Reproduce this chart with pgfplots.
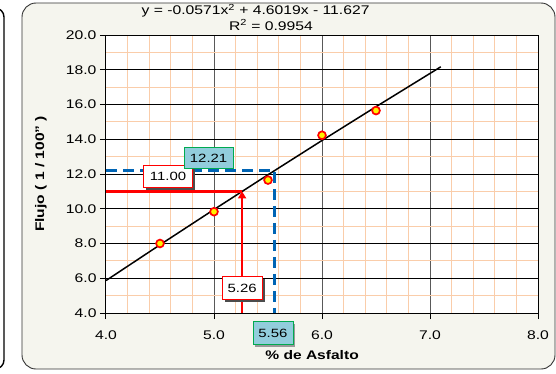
\documentclass[border=0pt]{standalone}
\usepackage{pgfplots}
\pgfplotsset{compat=1.18}
\usepackage{fontspec}
\setmainfont{Liberation Sans}[FakeStretch=1.25]
\usetikzlibrary{shadows,arrows.meta,backgrounds}
\definecolor{bgc}{RGB}{245,245,238}
\definecolor{gridor}{RGB}{250,205,170}
\definecolor{blueL}{RGB}{0,100,180}
\definecolor{tealF}{RGB}{146,205,220}
\definecolor{greenB}{RGB}{0,170,80}
\begin{document}
\begin{tikzpicture}[x=1bp,y=1bp]
\begin{axis}[
  scale only axis, width=432bp, height=278bp,
  xmin=4, xmax=8, ymin=4, ymax=20,
  xtick={4,5,6,7,8}, ytick={4,6,...,20},
  minor x tick num=4, minor y tick num=1,
  grid=both,
  minor grid style={gridor, line width=1bp},
  major x grid style={black!65, line width=1bp},
  major y grid style={black, line width=1bp},
  axis line style={black, line width=1bp},
  axis background/.style={fill=white},
  tick pos=left, tick align=outside,
  major tick length=6bp, minor tick length=0pt,
  tick style={black, line width=1bp},
  /pgf/number format/assume math mode=true,
  /pgf/number format/fixed,
  /pgf/number format/fixed zerofill,
  /pgf/number format/precision=1,
  ticklabel style={font=\fontsize{12.6}{14}\selectfont},
  xticklabel style={yshift=-8bp},
  xlabel={\% de Asfalto},
  ylabel={Flujo ( 1 / 100" )},
  every axis x label/.style={at={(axis description cs:0.477,0)}, yshift=-42bp, anchor=center, font=\fontsize{12.5}{14}\selectfont\bfseries},
  every axis y label/.style={at={(axis description cs:0,0.5)}, xshift=-65bp, anchor=center, rotate=90, font=\fontsize{12.5}{14}\selectfont\bfseries},
  clip=false,
]
\coordinate (O) at (rel axis cs:0,0);
% fit curve (values of the trendline)
\addplot[black, line width=1.5bp, no marks] coordinates {
 (4.0,5.867) (4.5,7.926) (5.0,9.955) (5.5,11.956) (6.0,13.929) (6.5,15.873) (7.0,17.788) (7.1,18.17)};
% red reading
\addplot[red, line width=2.4bp, no marks] coordinates {(4,11.00) (5.26,11.00)};
\addplot[red, line width=2.4bp, no marks, -{Triangle[width=8bp,length=7bp]}] coordinates {(5.26,4) (5.26,11.00)};
% blue reading
\addplot[blueL, line width=2.4bp, no marks, dash pattern=on 11bp off 6bp] coordinates {(4,12.21) (5.56,12.21) (5.56,4)};
% data
\addplot[only marks, mark=*, mark size=3.9bp, mark options={fill=yellow, draw=red, line width=1.7bp}] coordinates {
 (4.5,8.0) (5.0,9.83) (5.5,11.65) (6.0,14.23) (6.5,15.65)};
\node[draw=red, fill=white, line width=0.8bp, minimum width=49bp, minimum height=22bp, inner sep=0pt,
  drop shadow={shadow xshift=2.5bp, shadow yshift=-2.5bp, fill=black!70, opacity=1},
  font=\fontsize{12}{14}\selectfont] at (axis cs:4.574,11.87) {11.00};
\node[draw=greenB, fill=tealF, line width=0.8bp, minimum width=49bp, minimum height=21bp, inner sep=0pt,
  font=\fontsize{12}{14}\selectfont] at (axis cs:4.95,12.91) {12.21};
\node[draw=red, fill=white, line width=0.8bp, minimum width=40bp, minimum height=23bp, inner sep=0pt,
  drop shadow={shadow xshift=2.5bp, shadow yshift=-2.5bp, fill=black!70, opacity=1},
  font=\fontsize{12}{14}\selectfont] at (axis cs:5.26,5.44) {5.26};
\node[draw=greenB, fill=tealF, line width=0.8bp, minimum width=40bp, minimum height=23bp, inner sep=0pt,
  drop shadow={shadow xshift=2.5bp, shadow yshift=-2.5bp, fill=black!40, opacity=1},
  font=\fontsize{12}{14}\selectfont] at (axis cs:5.546,2.85) {5.56};
\end{axis}
\begin{scope}[shift={(O)}, shift={(-106,-60)}]
  \begin{scope}[on background layer]
    \draw[line width=1.4bp,rounded corners=9bp] (-20,365) -- (4,365) -- (4,4) -- (-20,4);
    \draw[fill=bgc,draw=black!80,line width=0.9bp,rounded corners=14bp] (22,4) rectangle (555,370);
  \end{scope}
  \node[font=\fontsize{12.6}{14}\selectfont, anchor=east] at (373,362) {y = -0.0571x\textsuperscript{2} + 4.6019x - 11.627};
  \node[font=\fontsize{12.6}{14}\selectfont] at (271,348) {R\textsuperscript{2} = 0.9954};
  \pgfresetboundingbox
  \path[use as bounding box] (0,0) rectangle (556,373);
\end{scope}
\end{tikzpicture}
\end{document}
